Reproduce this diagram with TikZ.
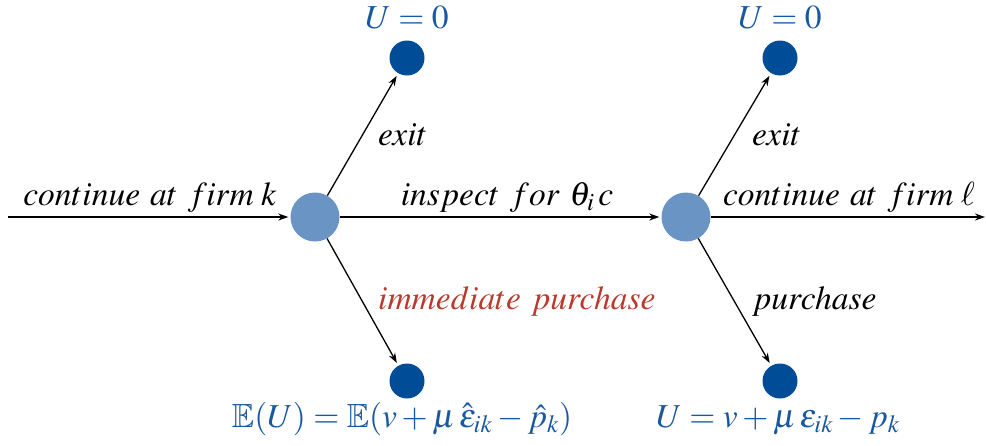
\documentclass[tikz,border=0pt]{standalone}
\usepackage{amssymb}
\usepackage{mathptmx}
\usetikzlibrary{arrows.meta}
\definecolor{lightnode}{RGB}{106,148,196}
\definecolor{darknode}{RGB}{0,76,151}
\definecolor{bluetext}{RGB}{25,88,160}
\definecolor{redtext}{RGB}{185,58,45}
\tikzset{
  bignode/.style={circle,fill=lightnode,draw=none,minimum size=49pt,inner sep=0pt},
  endnode/.style={circle,fill=darknode,draw=none,minimum size=35pt,inner sep=0pt},
  arr/.style={-{Stealth[length=10pt,width=7pt]},line width=1.3pt,black},
  lbl/.style={font=\fontsize{33.5}{40}\selectfont,inner sep=0pt},
}
\begin{document}
\begin{tikzpicture}[x=1pt,y=-1pt]
\useasboundingbox (0,0) rectangle (986,445);
\node[bignode] (n1) at (315,217) {};
\node[bignode] (n2) at (686,217) {};
\node[endnode] (t1) at (407,58) {};
\node[endnode] (b1) at (407,381) {};
\node[endnode] (t2) at (780,58) {};
\node[endnode] (b2) at (780,381) {};
\coordinate (start) at (8,217);
\coordinate (finish) at (985,217);

\draw[arr,shorten >=2pt] (start) -- (n1);
\draw[arr,shorten >=2pt] (n1) -- (n2);
\draw[arr] (n2) -- (finish);
\draw[arr,shorten >=3pt] (n1) -- (t1);
\draw[arr,shorten >=3pt] (n1) -- (b1);
\draw[arr,shorten >=3pt] (n2) -- (t2);
\draw[arr,shorten >=3pt] (n2) -- (b2);

\node[lbl,anchor=base] (l1) at (150,205) {$continue\ at\ firm\;k$};
\node[lbl,anchor=base] (l2) at (507,205) {$inspect\ for\ \theta_i\,c$};
\node[lbl,anchor=base] (l3) at (849,205) {$continue\ at\ firm\;\ell$};
\node[lbl,anchor=base west] (e1) at (378,145) {$exit$};
\node[lbl,anchor=base west] (e2) at (752,145) {$exit$};
\node[lbl,anchor=base west,text=redtext] (p1) at (378,309) {$immediate\ purchase$};
\node[lbl,anchor=base west] (p2) at (752,309) {$purchase$};
\node[lbl,anchor=base,text=bluetext] (u1) at (407,28) {$U=0$};
\node[lbl,anchor=base,text=bluetext] (u2) at (780,28) {$U=0$};
\node[lbl,anchor=base,text=bluetext] (v1) at (402,427) {$\mathbb{E}(U)=\mathbb{E}(v+\mu\,\hat{\varepsilon}_{ik}-\hat{p}_k)$};
\node[lbl,anchor=base,text=bluetext] (v2) at (778,427) {$U=v+\mu\,\varepsilon_{ik}-p_k$};
\end{tikzpicture}
\end{document}
